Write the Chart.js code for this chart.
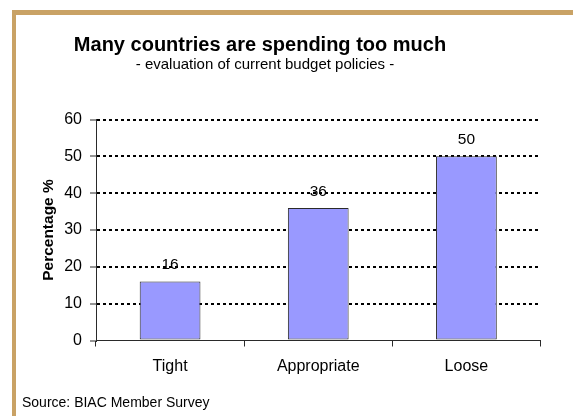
<!DOCTYPE html>
<html>
<head>
<meta charset="utf-8">
<script src="https://cdn.jsdelivr.net/npm/chart.js@4/dist/chart.umd.min.js"></script>
<style>
  html, body { margin: 0; padding: 0; background: #fff; }
  #wrap { position: relative; width: 573px; height: 416px; overflow: hidden; }
  #frame {
    position: absolute; left: 12px; top: 10px; right: -10px; bottom: -10px;
    border-top: 5px solid #C9A265; border-left: 4px solid #C9A265;
    pointer-events: none;
  }
  canvas { position: absolute; left: 0; top: 0; }
</style>
</head>
<body>
<div id="wrap">
  <canvas id="chart" width="573" height="416"></canvas>
  <div id="frame"></div>
</div>
<script>
// Survey answers: how members judge current budget policies
const categories = ['Tight', 'Appropriate', 'Loose'];
const shares = [16, 36, 50];
const axisMin = 0;
const axisMax = 60;
const axisStep = 10;

const chartTitle = 'Many countries are spending too much';
const chartSubtitle = '- evaluation of current budget policies -';
const axisTitle = 'Percentage %';
const sourceNote = 'Source: BIAC Member Survey';

const FONT = '"Liberation Sans", Arial, Helvetica, sans-serif';

// Headings, source note and value labels above each bar
const annotations = {
  id: 'annotations',
  afterDatasetsDraw(chart) {
    const ctx = chart.ctx;
    ctx.save();
    ctx.fillStyle = '#000';
    ctx.textAlign = 'center';
    ctx.textBaseline = 'middle';
    ctx.font = '15.5px ' + FONT;
    const meta = chart.getDatasetMeta(0);
    meta.data.forEach((bar, i) => {
      ctx.fillText(String(shares[i]), bar.x, bar.y - 16.5);
    });
    ctx.restore();
  },
  afterDraw(chart) {
    const ctx = chart.ctx;
    ctx.save();
    ctx.fillStyle = '#000';
    ctx.textBaseline = 'middle';
    ctx.textAlign = 'center';
    ctx.font = 'bold 20px ' + FONT;
    ctx.fillText(chartTitle, 260, 45);
    ctx.font = '15px ' + FONT;
    ctx.fillText(chartSubtitle, 265, 65);
    ctx.textAlign = 'left';
    ctx.font = '14px ' + FONT;
    ctx.fillText(sourceNote, 22, 403);
    ctx.restore();
  }
};

new Chart(document.getElementById('chart'), {
  type: 'bar',
  data: {
    labels: categories,
    datasets: [{
      data: shares,
      backgroundColor: '#9999FF',
      borderColor: '#2a2a2a',
      borderWidth: 1,
      borderSkipped: false,
      categoryPercentage: 1,
      barPercentage: 0.41
    }]
  },
  options: {
    responsive: false,
    animation: false,
    layout: { padding: { top: 119.5, right: 32.5, bottom: 0, left: 0 } },
    plugins: {
      legend: { display: false },
      tooltip: { enabled: false },
      title: { display: false }
    },
    scales: {
      x: {
        offset: true,
        afterFit(scale) { scale.height = 75.5; },
        grid: {
          offset: true,
          drawOnChartArea: false,
          drawTicks: true,
          tickLength: 6,
          tickColor: '#2a2a2a',
          tickWidth: 1
        },
        border: { display: true, color: '#2a2a2a', width: 1 },
        ticks: {
          color: '#000',
          font: { family: FONT, size: 16 },
          padding: 10,
          maxRotation: 0
        }
      },
      y: {
        min: axisMin,
        max: axisMax,
        afterFit(scale) { scale.width = 96; },
        grid: {
          color: (c) => (c.tick && c.tick.value === axisMin) ? 'rgba(0,0,0,0)' : '#000',
          lineWidth: 2,
          drawTicks: true,
          tickLength: 6,
          tickColor: '#2a2a2a',
          tickWidth: 1,
          tickBorderDash: []
        },
        border: { display: true, color: '#2a2a2a', width: 1, dash: [3, 3] },
        ticks: {
          stepSize: axisStep,
          color: '#000',
          font: { family: FONT, size: 16 },
          padding: 8
        },
        title: {
          display: true,
          text: axisTitle,
          color: '#000',
          font: { family: FONT, size: 15.5, weight: 'bold' },
          padding: { top: 39, bottom: 0 }
        }
      }
    }
  },
  plugins: [annotations]
});
</script>
</body>
</html>
